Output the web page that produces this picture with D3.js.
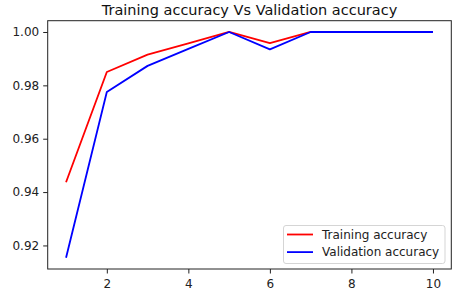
<!DOCTYPE html>
<html><head><meta charset="utf-8">
<script src="https://cdn.jsdelivr.net/npm/d3@7"></script>
<style>body{margin:0;background:#fff}svg{display:block;font-family:"DejaVu Sans",sans-serif}</style>
</head><body><svg id="c" width="458" height="291"></svg>
<script>
const epochs = [1,2,3,4,5,6,7,8,9,10];
const trainAcc = [0.9437,0.9850,0.9915,0.9957,1.0,0.9958,1.0,1.0,1.0,1.0];
const valAcc = [0.9154,0.9775,0.9873,0.9937,1.0,0.9935,1.0,1.0,1.0,1.0];
const xTicks = [2,4,6,8,10];
const yTicks = [0.92,0.94,0.96,0.98,1.00];
const seriesNames = ["Training accuracy","Validation accuracy"];
const seriesColors = ["#ff0000","#0000ff"];

const svg = d3.select("#c");
const L=47.7,R=451.3,T=20.7,B=269;
const x = d3.scaleLinear().domain([0.55,10.45]).range([L,R]);
const y = d3.scaleLinear().domain([0.91117,1.00423]).range([B,T]);

const line = d3.line().x((d,i)=>x(epochs[i])).y(d=>y(d));
[trainAcc,valAcc].forEach((s,k)=>{
  svg.append("path").attr("d",line(s)).attr("fill","none")
    .attr("stroke",seriesColors[k]).attr("stroke-width",1.8).attr("stroke-linejoin","round");
});

const xa = svg.append("g").attr("transform",`translate(0,${B})`)
  .call(d3.axisBottom(x).tickValues(xTicks).tickSize(4.5).tickPadding(5.5).tickFormat(d3.format("d")));
const ya = svg.append("g").attr("transform",`translate(${L},0)`)
  .call(d3.axisLeft(y).tickValues(yTicks).tickSize(4.5).tickPadding(4).tickFormat(d3.format(".2f")));
[xa,ya].forEach(a=>{
  a.select(".domain").remove();
  a.selectAll("line").attr("stroke","#222").attr("stroke-width",1);
  a.selectAll("text").attr("font-size",12).attr("fill","#222").attr("font-family","DejaVu Sans");
});
svg.append("rect").attr("x",L).attr("y",T).attr("width",R-L).attr("height",B-T)
  .attr("fill","none").attr("stroke","#222").attr("stroke-width",1);

svg.append("text").attr("x",(L+R)/2).attr("y",14.5).attr("text-anchor","middle")
  .attr("font-size",14.5).attr("fill","#111").text("Training accuracy Vs Validation accuracy");

const lg = svg.append("g");
lg.append("rect").attr("x",283.5).attr("y",225.5).attr("width",161.5).attr("height",38).attr("rx",2.5)
  .attr("fill","#fff").attr("fill-opacity",0.8).attr("stroke","#d5d5d5").attr("stroke-width",1);
seriesNames.forEach((n,i)=>{
  const yy = 234.5 + i*17.6;
  lg.append("line").attr("x1",287).attr("x2",313).attr("y1",yy).attr("y2",yy)
    .attr("stroke",seriesColors[i]).attr("stroke-width",1.8);
  lg.append("text").attr("x",322).attr("y",yy+4.3).attr("font-size",12).attr("fill","#222").text(n);
});
</script></body></html>
